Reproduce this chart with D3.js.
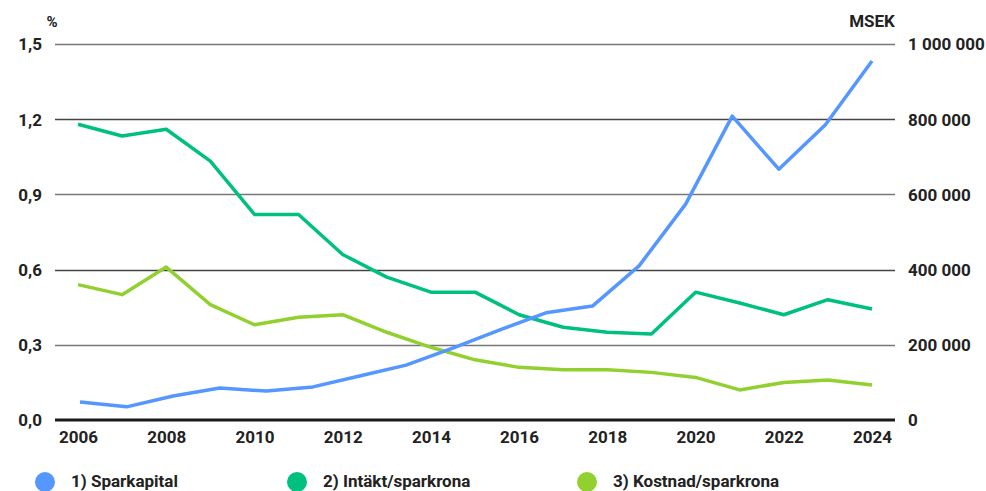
<!DOCTYPE html>
<html><head><meta charset="utf-8">
<script src="https://cdn.jsdelivr.net/npm/d3@7"></script>
<style>
body{margin:0;background:#fff;}
text{font-family:Roboto,"Noto Sans",sans-serif;font-weight:700;fill:#222;}
</style></head><body>
<svg id="c" width="986" height="491"></svg>
<script>
const years = d3.range(2006, 2025);
const yearTicks = [2006,2008,2010,2012,2014,2016,2018,2020,2022,2024];
const leftTicks = [0,0.3,0.6,0.9,1.2,1.5];
const rightTicks = [0,200000,400000,600000,800000,1000000];
const sparkapital = [48000,35000,64000,85000,77000,88000,117000,146000,191000,239000,285000,303000,410000,574000,808000,667000,785000,955000];
const intakt = [1.18,1.133,1.16,1.033,0.82,0.82,0.66,0.57,0.51,0.51,0.42,0.37,0.35,0.343,0.51,0.467,0.42,0.48,0.443];
const kostnad = [0.54,0.50,0.61,0.46,0.38,0.41,0.42,0.35,0.29,0.24,0.21,0.20,0.20,0.19,0.17,0.12,0.15,0.16,0.14];
const legendLabels = ["1) Sparkapital","2) Intäkt/sparkrona","3) Kostnad/sparkrona"];
const colors = ["#5596ff","#00c07f","#92d02f"];

const svg = d3.select("#c");
const x = d3.scaleLinear().domain([2006,2024]).range([78,872]);
const xb = d3.scalePoint().domain(d3.range(sparkapital.length)).range([80,872]);
const yl = d3.scaleLinear().domain([0,1.5]).range([420,44]);
const yr = d3.scaleLinear().domain([0,1000000]).range([420,44]);

// grid
svg.append("g").selectAll("line").data(leftTicks.slice(1)).join("line")
  .attr("x1",55).attr("x2",895).attr("y1",d=>Math.round(yl(d))+0.5).attr("y2",d=>Math.round(yl(d))+0.5)
  .attr("stroke",(d,i)=>i%2===0?"#777":"#444").attr("stroke-width",1.3);

// left axis
const la = svg.append("g").attr("transform","translate(55,0)")
  .call(d3.axisLeft(yl).tickValues(leftTicks).tickSize(0).tickPadding(13)
  .tickFormat(d=>d3.format(".1f")(d).replace(".",",")));
la.select(".domain").remove();
la.selectAll("text").style("font-size","17px").attr("dy","0.35em");

// right axis
const fmtR = d => d3.format(",")(d).replace(/,/g," ");
const ra = svg.append("g").attr("transform","translate(895,0)")
  .call(d3.axisRight(yr).tickValues(rightTicks).tickSize(0).tickPadding(13).tickFormat(fmtR));
ra.select(".domain").remove();
ra.selectAll("text").style("font-size","17px").attr("dy","0.35em");

// x axis
const xa = svg.append("g").attr("transform","translate(0,420)")
  .call(d3.axisBottom(x).tickValues(yearTicks).tickSize(0).tickPadding(11).tickFormat(d3.format("d")));
xa.select(".domain").remove();
xa.selectAll("text").style("font-size","17px");

// baseline
svg.append("line").attr("x1",55).attr("x2",895).attr("y1",yl(0)).attr("y2",yl(0))
  .attr("stroke","#1a1a1a").attr("stroke-width",3);

// unit labels
svg.append("text").attr("x",52).attr("y",27).attr("text-anchor","middle").style("font-size","15px").text("%");
svg.append("text").attr("x",872).attr("y",27).attr("text-anchor","middle").style("font-size","17px").text("MSEK");

// lines
const lineB = d3.line().x((d,i)=>xb(i)).y(d=>yr(d));
const lineL = d3.line().x((d,i)=>x(years[i])).y(d=>yl(d));
svg.append("path").attr("d",lineL(kostnad)).attr("fill","none").attr("stroke",colors[2]).attr("stroke-width",3.5).attr("stroke-linejoin","round");
svg.append("path").attr("d",lineL(intakt)).attr("fill","none").attr("stroke",colors[1]).attr("stroke-width",3.5).attr("stroke-linejoin","round");
svg.append("path").attr("d",lineB(sparkapital)).attr("fill","none").attr("stroke",colors[0]).attr("stroke-width",3.5).attr("stroke-linejoin","round");

// legend
const lx = [45,297,587];
const lg = svg.append("g").selectAll("g").data(legendLabels).join("g")
  .attr("transform",(d,i)=>`translate(${lx[i]},482)`);
lg.append("circle").attr("r",10).attr("fill",(d,i)=>colors[i]);
lg.append("text").attr("x",26).attr("y",4.5).style("font-size","17px").text(d=>d);
</script></body></html>
